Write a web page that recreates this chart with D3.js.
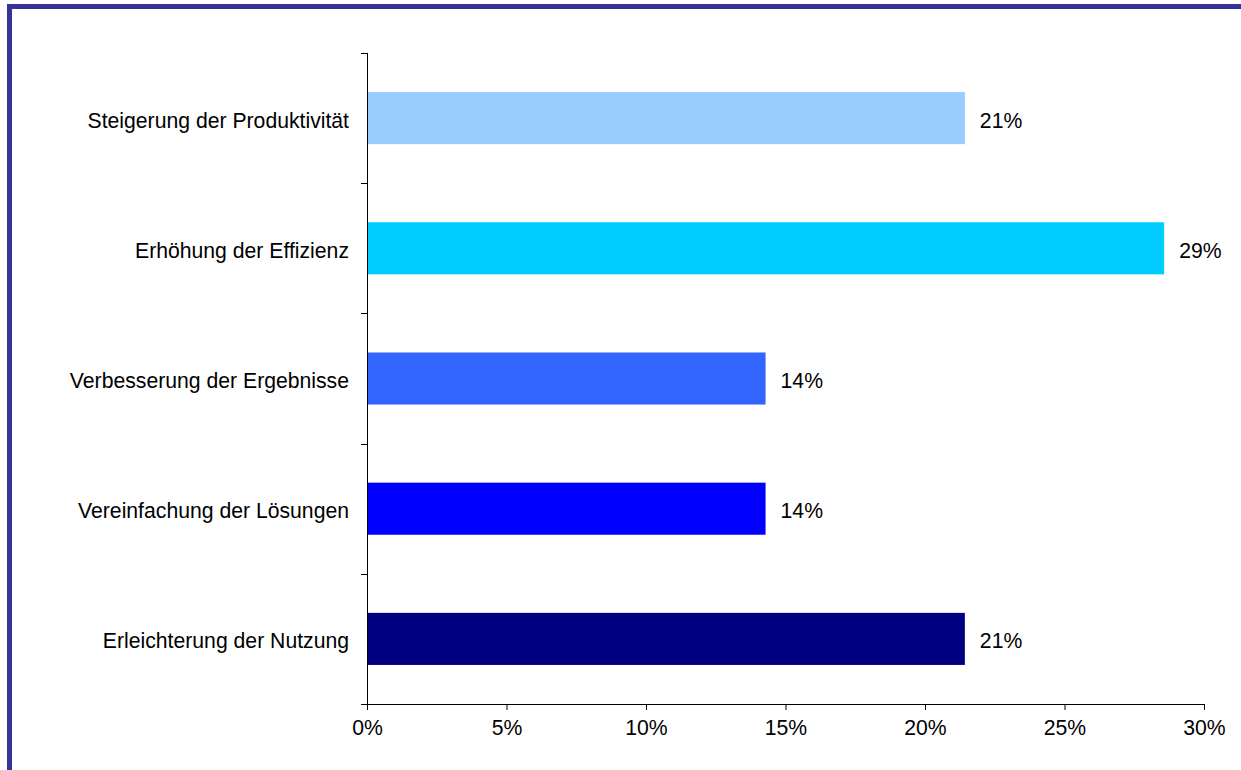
<!DOCTYPE html>
<html>
<head>
<meta charset="utf-8">
<script src="https://cdn.jsdelivr.net/npm/d3@7"></script>
<style>
  body { margin: 0; background: #fff; }
  text { font-family: "Liberation Sans", Arial, sans-serif; fill: #000; }
</style>
</head>
<body>
<div id="chart"></div>
<script>
const categories = [
  "Steigerung der Produktivität",
  "Erhöhung der Effizienz",
  "Verbesserung der Ergebnisse",
  "Vereinfachung der Lösungen",
  "Erleichterung der Nutzung"
];
const values = [3 / 14, 4 / 14, 2 / 14, 2 / 14, 3 / 14];
const barColors = ["#99CCFF", "#00CCFF", "#3366FF", "#0000FF", "#000080"];
const xTicks = [0, 0.05, 0.10, 0.15, 0.20, 0.25, 0.30];

const width = 1241, height = 770;
const margin = {top: 53, right: 37, bottom: 66, left: 367};
const fontSize = "21.2px";

const svg = d3.select("#chart")
  .append("svg")
  .attr("width", width)
  .attr("height", height);

// Frame
svg.append("rect")
  .attr("x", 9.5)
  .attr("y", 6.5)
  .attr("width", width + 20)
  .attr("height", height + 20)
  .attr("fill", "none")
  .attr("stroke", "#333399")
  .attr("stroke-width", 5);

const x = d3.scaleLinear()
  .domain([0, 0.30])
  .range([margin.left, width - margin.right]);

const y = d3.scaleBand()
  .domain(categories)
  .range([margin.top, height - margin.bottom]);

const barH = y.bandwidth() * 0.4;

svg.selectAll("rect.bar")
  .data(categories)
  .enter()
  .append("rect")
  .attr("class", "bar")
  .attr("x", x(0))
  .attr("y", d => y(d) + (y.bandwidth() - barH) / 2)
  .attr("width", (d, i) => x(values[i]) - x(0))
  .attr("height", barH)
  .attr("fill", (d, i) => barColors[i]);

// Value labels
svg.selectAll("text.val")
  .data(categories)
  .enter()
  .append("text")
  .attr("class", "val")
  .attr("x", (d, i) => x(values[i]) + 15)
  .attr("y", d => y(d) + y.bandwidth() / 2 + 2)
  .attr("dy", "0.35em")
  .style("font-size", fontSize)
  .text((d, i) => d3.format(".0%")(values[i]));

// X axis
const xAxis = svg.append("g")
  .attr("transform", "translate(0," + (height - margin.bottom) + ")")
  .call(d3.axisBottom(x).tickValues(xTicks).tickFormat(d3.format(".0%")).tickSizeOuter(6).tickSize(6).tickPadding(10));
xAxis.select(".domain").attr("stroke", "#000");
xAxis.selectAll("text").style("font-size", fontSize).attr("font-family", null);

// Y axis: ticks at band boundaries
const yEdges = categories.map(d => y(d)).concat([y.range()[1]]);
const yAxis = svg.append("g");
yAxis.append("line")
  .attr("x1", x(0) + 0.5).attr("x2", x(0) + 0.5)
  .attr("y1", y.range()[0]).attr("y2", y.range()[1])
  .attr("stroke", "#000");
yAxis.selectAll("line.tick")
  .data(yEdges)
  .enter()
  .append("line")
  .attr("class", "tick")
  .attr("x1", x(0) - 6).attr("x2", x(0) + 0.5)
  .attr("y1", d => Math.round(d) + 0.5).attr("y2", d => Math.round(d) + 0.5)
  .attr("stroke", "#000");
yAxis.selectAll("text")
  .data(categories)
  .enter()
  .append("text")
  .attr("x", x(0) - 18)
  .attr("y", d => y(d) + y.bandwidth() / 2 + 2)
  .attr("dy", "0.35em")
  .attr("text-anchor", "end")
  .style("font-size", fontSize)
  .text(d => d);
</script>
</body>
</html>
